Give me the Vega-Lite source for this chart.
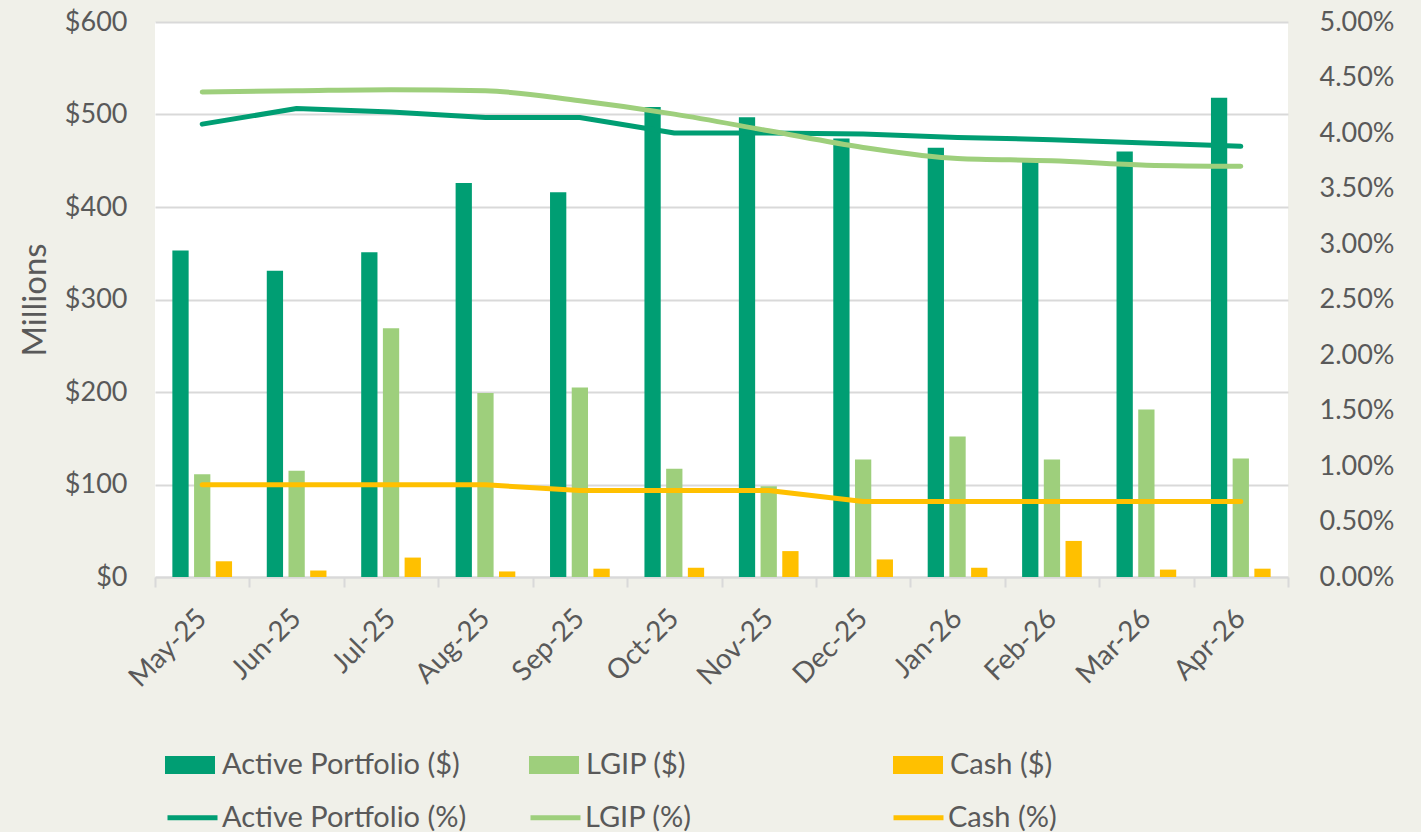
{
  "$schema": "https://vega.github.io/schema/vega-lite/v6.json",
  "width": 1133,
  "height": 555,
  "autosize": {"type": "none"},
  "padding": {"left": 155, "top": 22, "right": 133, "bottom": 255},
  "background": "#F0F0E9",
  "view": {"fill": "white", "stroke": null},
  "config": {
    "font": "Lato",
    "axis": {"labelFont": "Lato", "labelColor": "#595959", "labelFontSize": 27, "titleFont": "Lato", "titleColor": "#595959", "titleFontWeight": "normal"},
    "legend": {"labelFont": "Lato", "labelColor": "#595959", "labelFontSize": 29, "padding": 0}
  },
  "datasets": {
    "bars": [
      {"month": "May-25", "series": "Active Portfolio ($)", "value": 353},
      {"month": "May-25", "series": "LGIP ($)", "value": 111},
      {"month": "May-25", "series": "Cash ($)", "value": 17},
      {"month": "Jun-25", "series": "Active Portfolio ($)", "value": 331},
      {"month": "Jun-25", "series": "LGIP ($)", "value": 115},
      {"month": "Jun-25", "series": "Cash ($)", "value": 7},
      {"month": "Jul-25", "series": "Active Portfolio ($)", "value": 351},
      {"month": "Jul-25", "series": "LGIP ($)", "value": 269},
      {"month": "Jul-25", "series": "Cash ($)", "value": 21},
      {"month": "Aug-25", "series": "Active Portfolio ($)", "value": 426},
      {"month": "Aug-25", "series": "LGIP ($)", "value": 199},
      {"month": "Aug-25", "series": "Cash ($)", "value": 6},
      {"month": "Sep-25", "series": "Active Portfolio ($)", "value": 416},
      {"month": "Sep-25", "series": "LGIP ($)", "value": 205},
      {"month": "Sep-25", "series": "Cash ($)", "value": 9},
      {"month": "Oct-25", "series": "Active Portfolio ($)", "value": 508},
      {"month": "Oct-25", "series": "LGIP ($)", "value": 117},
      {"month": "Oct-25", "series": "Cash ($)", "value": 10},
      {"month": "Nov-25", "series": "Active Portfolio ($)", "value": 497},
      {"month": "Nov-25", "series": "LGIP ($)", "value": 98},
      {"month": "Nov-25", "series": "Cash ($)", "value": 28},
      {"month": "Dec-25", "series": "Active Portfolio ($)", "value": 474},
      {"month": "Dec-25", "series": "LGIP ($)", "value": 127},
      {"month": "Dec-25", "series": "Cash ($)", "value": 19},
      {"month": "Jan-26", "series": "Active Portfolio ($)", "value": 464},
      {"month": "Jan-26", "series": "LGIP ($)", "value": 152},
      {"month": "Jan-26", "series": "Cash ($)", "value": 10},
      {"month": "Feb-26", "series": "Active Portfolio ($)", "value": 452},
      {"month": "Feb-26", "series": "LGIP ($)", "value": 127},
      {"month": "Feb-26", "series": "Cash ($)", "value": 39},
      {"month": "Mar-26", "series": "Active Portfolio ($)", "value": 460},
      {"month": "Mar-26", "series": "LGIP ($)", "value": 181},
      {"month": "Mar-26", "series": "Cash ($)", "value": 8},
      {"month": "Apr-26", "series": "Active Portfolio ($)", "value": 518},
      {"month": "Apr-26", "series": "LGIP ($)", "value": 128},
      {"month": "Apr-26", "series": "Cash ($)", "value": 9}
    ],
    "rates": [
      {"month": "May-25", "series2": "Active Portfolio (%)", "rate": 0.0408},
      {"month": "Jun-25", "series2": "Active Portfolio (%)", "rate": 0.0422},
      {"month": "Jul-25", "series2": "Active Portfolio (%)", "rate": 0.0419},
      {"month": "Aug-25", "series2": "Active Portfolio (%)", "rate": 0.0414},
      {"month": "Sep-25", "series2": "Active Portfolio (%)", "rate": 0.0414},
      {"month": "Oct-25", "series2": "Active Portfolio (%)", "rate": 0.0400},
      {"month": "Nov-25", "series2": "Active Portfolio (%)", "rate": 0.0400},
      {"month": "Dec-25", "series2": "Active Portfolio (%)", "rate": 0.0399},
      {"month": "Jan-26", "series2": "Active Portfolio (%)", "rate": 0.0396},
      {"month": "Feb-26", "series2": "Active Portfolio (%)", "rate": 0.0394},
      {"month": "Mar-26", "series2": "Active Portfolio (%)", "rate": 0.0391},
      {"month": "Apr-26", "series2": "Active Portfolio (%)", "rate": 0.0388},
      {"month": "May-25", "series2": "LGIP (%)", "rate": 0.0437},
      {"month": "Jun-25", "series2": "LGIP (%)", "rate": 0.0438},
      {"month": "Jul-25", "series2": "LGIP (%)", "rate": 0.0439},
      {"month": "Aug-25", "series2": "LGIP (%)", "rate": 0.0438},
      {"month": "Sep-25", "series2": "LGIP (%)", "rate": 0.0429},
      {"month": "Oct-25", "series2": "LGIP (%)", "rate": 0.0417},
      {"month": "Nov-25", "series2": "LGIP (%)", "rate": 0.0402},
      {"month": "Dec-25", "series2": "LGIP (%)", "rate": 0.0387},
      {"month": "Jan-26", "series2": "LGIP (%)", "rate": 0.0377},
      {"month": "Feb-26", "series2": "LGIP (%)", "rate": 0.0375},
      {"month": "Mar-26", "series2": "LGIP (%)", "rate": 0.0371},
      {"month": "Apr-26", "series2": "LGIP (%)", "rate": 0.0370},
      {"month": "May-25", "series2": "Cash (%)", "rate": 0.0083},
      {"month": "Jun-25", "series2": "Cash (%)", "rate": 0.0083},
      {"month": "Jul-25", "series2": "Cash (%)", "rate": 0.0083},
      {"month": "Aug-25", "series2": "Cash (%)", "rate": 0.0083},
      {"month": "Sep-25", "series2": "Cash (%)", "rate": 0.0078},
      {"month": "Oct-25", "series2": "Cash (%)", "rate": 0.0078},
      {"month": "Nov-25", "series2": "Cash (%)", "rate": 0.0078},
      {"month": "Dec-25", "series2": "Cash (%)", "rate": 0.0068},
      {"month": "Jan-26", "series2": "Cash (%)", "rate": 0.0068},
      {"month": "Feb-26", "series2": "Cash (%)", "rate": 0.0068},
      {"month": "Mar-26", "series2": "Cash (%)", "rate": 0.0068},
      {"month": "Apr-26", "series2": "Cash (%)", "rate": 0.0068}
    ]
  },
  "resolve": {"scale": {"y": "independent"}},
  "layer": [
    {
      "data": {"name": "bars"},
      "mark": {"type": "bar"},
      "encoding": {
        "x": {
          "field": "month", "type": "ordinal", "sort": null,
          "scale": {"paddingInner": 0, "paddingOuter": 0},
          "axis": {
            "title": null, "labelAngle": -45, "labelAlign": "right", "labelBaseline": "middle",
            "labelFontSize": 28, "labelPadding": 27, "domainColor": "#D9D9D9", "domainWidth": 2,
            "tickColor": "#D9D9D9", "tickWidth": 2, "tickSize": 10, "tickBand": "extent", "grid": false
          }
        },
        "xOffset": {
          "field": "series", "type": "nominal",
          "scale": {"domain": ["Active Portfolio ($)", "LGIP ($)", "Cash ($)"], "paddingInner": 0.25, "paddingOuter": 0.8}
        },
        "y": {
          "field": "value", "type": "quantitative",
          "scale": {"domain": [0, 600], "nice": false},
          "axis": {
            "title": "Millions", "titleFontSize": 33, "titlePadding": 12,
            "values": [0, 100, 200, 300, 400, 500, 600], "format": "$.0f",
            "domain": false, "ticks": false, "labelPadding": 28,
            "grid": true, "gridColor": "#D9D9D9", "gridWidth": 2
          }
        },
        "fill": {
          "field": "series", "type": "nominal",
          "scale": {"domain": ["Active Portfolio ($)", "LGIP ($)", "Cash ($)"], "range": ["#009E73", "#9ECF7C", "#FFC000"]},
          "legend": {
            "title": null, "orient": "none", "legendX": 10, "legendY": 718,
            "direction": "horizontal", "columns": 3, "gridAlign": "all", "columnPadding": 69,
            "symbolType": "M-1,-0.36L1,-0.36L1,0.36L-1,0.36Z", "symbolSize": 2500,
            "symbolStrokeWidth": 0, "labelOffset": 7, "labelLimit": 500
          }
        }
      }
    },
    {
      "data": {"name": "rates"},
      "encoding": {
        "x": {"field": "month", "type": "ordinal", "sort": null},
        "y": {
          "field": "rate", "type": "quantitative",
          "scale": {"domain": [0, 0.05], "nice": false},
          "axis": {
            "orient": "right", "title": null, "format": ".2%",
            "values": [0, 0.005, 0.01, 0.015, 0.02, 0.025, 0.03, 0.035, 0.04, 0.045, 0.05],
            "domain": false, "ticks": false, "grid": false, "labelPadding": 31
          }
        },
        "stroke": {
          "field": "series2", "type": "nominal",
          "scale": {"domain": ["Active Portfolio (%)", "LGIP (%)", "Cash (%)"], "range": ["#009E73", "#9ECF7C", "#FFC000"]},
          "legend": {
            "title": null, "orient": "none", "legendX": 10, "legendY": 768,
            "direction": "horizontal", "columns": 3, "gridAlign": "all", "columnPadding": 53,
            "symbolType": "stroke", "symbolSize": 2500, "symbolStrokeWidth": 5,
            "labelOffset": 2, "labelLimit": 500
          }
        }
      },
      "layer": [
        {
          "transform": [{"filter": "datum.series2 !== 'LGIP (%)'"}],
          "mark": {"type": "line", "strokeWidth": 5, "strokeCap": "round", "strokeJoin": "round"}
        },
        {
          "transform": [{"filter": "datum.series2 === 'LGIP (%)'"}],
          "mark": {"type": "line", "strokeWidth": 5, "strokeCap": "round", "strokeJoin": "round", "interpolate": "monotone"}
        }
      ]
    }
  ]
}
